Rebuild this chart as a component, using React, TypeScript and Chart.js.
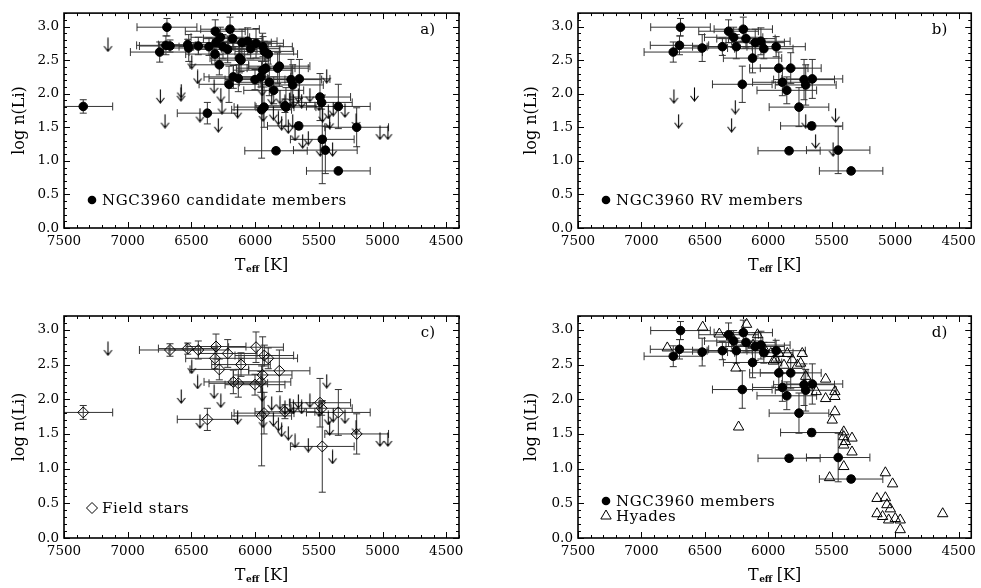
import React, { useEffect, useRef } from 'react';
import { Chart, registerables } from 'chart.js';

Chart.register(...registerables);

// ---------------- data ----------------
// NGC3960 RV members (detections)
const rvTeff = [6692, 6700, 6749, 6521, 6362, 6313, 6273, 6252, 6197, 6176, 6124, 6103, 6058, 6035, 5938, 5917, 5823, 6205, 5889, 5854, 5718, 5705, 5653, 5758, 5658, 5836, 5449, 5347];
const rvLi = [2.99, 2.72, 2.62, 2.68, 2.70, 2.93, 2.84, 2.70, 2.96, 2.82, 2.53, 2.76, 2.78, 2.67, 2.70, 2.38, 2.38, 2.14, 2.17, 2.05, 2.21, 2.13, 2.22, 1.80, 1.52, 1.15, 1.16, 0.85];
const rvTeffErr = [235, 230, 230, 200, 235, 235, 230, 230, 230, 230, 230, 230, 230, 230, 230, 230, 240, 235, 235, 235, 240, 240, 240, 235, 245, 245, 250, 250];
const rvLiErr = [0.13, 0.14, 0.15, 0.20, 0.13, 0.17, 0.15, 0.18, 0.18, 0.14, 0.22, 0.20, 0.20, 0.15, 0.15, 0.24, 0.23, 0.27, 0.20, 0.20, 0.30, 0.30, 0.29, 0.29, 0.05, 0.04, 0.35, 0.04];
// NGC3960 RV members (upper limits)
const rvLimTeff = [6744, 6582, 6707, 6260, 6289, 5627, 5470, 5705, 5489];
const rvLimLi = [1.96, 1.99, 1.59, 1.80, 1.53, 1.29, 1.68, 1.59, 1.17];

// Field stars (detections)
const fieldTeff = [7349, 6668, 6529, 6446, 6307, 6315, 6215, 6281, 6111, 5993, 5928, 5897, 5810, 6171, 6132, 6001, 5955, 5941, 6375, 5949, 5930, 5766, 5491, 5478, 5347, 5203, 5473];
const fieldLi = [1.81, 2.71, 2.73, 2.71, 2.76, 2.59, 2.66, 2.43, 2.50, 2.75, 2.63, 2.59, 2.41, 2.25, 2.23, 2.21, 2.25, 2.35, 1.71, 1.76, 1.80, 1.82, 1.95, 1.87, 1.81, 1.50, 1.32];
const fieldTeffErr = [231, 240, 230, 230, 235, 230, 230, 230, 230, 215, 230, 230, 240, 230, 230, 235, 235, 230, 236, 235, 235, 235, 240, 240, 250, 250, 250];
const fieldLiErr = [0.10, 0.09, 0.08, 0.13, 0.18, 0.15, 0.20, 0.15, 0.17, 0.22, 0.15, 0.15, 0.30, 0.17, 0.20, 0.15, 0.15, 0.55, 0.16, 0.72, 0.30, 0.10, 0.35, 0.10, 0.33, 0.29, 0.66];
// Field stars (upper limits)
const fieldLimTeff = [7155, 6580, 6497, 6451, 6322, 6269, 6433, 6137, 5945, 5938, 5870, 5805, 5857, 5818, 5792, 5740, 5687, 5766, 5726, 5700, 5661, 5635, 5583, 5570, 5499, 5438, 5426, 5415, 5387, 5392, 5295, 5208, 5020, 4958];
const fieldLimLi = [2.73, 2.04, 2.47, 2.25, 2.11, 1.98, 1.68, 1.74, 2.07, 1.69, 1.94, 1.95, 1.71, 1.64, 1.56, 1.51, 1.40, 1.88, 1.91, 1.89, 1.97, 1.89, 1.34, 1.98, 1.85, 2.26, 1.73, 1.58, 1.77, 1.17, 1.75, 1.60, 1.42, 1.42];

// Hyades
const hyadesTeff = [6796, 6517, 6386, 6290, 6255, 6234, 6171, 6120, 6085, 6030, 5980, 5960, 5941, 5915, 5876, 5850, 5811, 5771, 5745, 5732, 5705, 5622, 5548, 5548, 5475, 5475, 5475, 5496, 5405, 5405, 5392, 5340, 5405, 5340, 5405, 5517, 5077, 5020, 5143, 5077, 5065, 5038, 5143, 5099, 5051, 4999, 4960, 4960, 4625];
const hyadesLi = [2.74, 3.04, 2.94, 2.90, 2.45, 1.60, 3.08, 2.78, 2.93, 2.72, 2.66, 2.55, 2.57, 2.66, 2.49, 2.66, 2.57, 2.49, 2.52, 2.66, 2.33, 2.11, 2.29, 2.01, 2.11, 2.04, 1.82, 1.70, 1.53, 1.46, 1.39, 1.44, 1.34, 1.24, 1.03, 0.87, 0.94, 0.78, 0.57, 0.58, 0.48, 0.42, 0.35, 0.31, 0.26, 0.28, 0.26, 0.12, 0.35];

// Axes
const xTickValues = [7500, 7000, 6500, 6000, 5500, 5000, 4500];
const yTickValues = [0.0, 0.5, 1.0, 1.5, 2.0, 2.5, 3.0];
const X_MIN = 4400;
const X_MAX = 7500;
const Y_MIN = 0;
const Y_MAX = 3.2;

const panelLabels = ['a)', 'b)', 'c)', 'd)'];
const yTitle = 'log n(Li)';

// ---------------- helpers ----------------
const FONT = '"DejaVu Serif", "Liberation Serif", serif';

type Pt = { x: number; y: number; xe: number; ye: number };
const toPts = (xs: number[], ys: number[], xe?: number[], ye?: number[]): Pt[] =>
  xs.map((x, i) => ({ x, y: ys[i], xe: xe ? xe[i] : 0, ye: ye ? ye[i] : 0 }));

function makeArrow(): HTMLCanvasElement {
  const c = document.createElement('canvas');
  c.width = 11;
  c.height = 15;
  const g = c.getContext('2d')!;
  g.strokeStyle = '#000';
  g.lineWidth = 1.1;
  g.beginPath();
  g.moveTo(5.5, 0.5);
  g.lineTo(5.5, 14);
  g.moveTo(1.5, 9);
  g.lineTo(5.5, 14);
  g.lineTo(9.5, 9);
  g.stroke();
  return c;
}

function drawSymbol(ctx: CanvasRenderingContext2D, kind: string, x: number, y: number) {
  ctx.save();
  ctx.strokeStyle = '#000';
  ctx.fillStyle = '#000';
  ctx.lineWidth = 1;
  ctx.beginPath();
  if (kind === 'circle') {
    ctx.arc(x, y, 4.3, 0, Math.PI * 2);
    ctx.fill();
  } else if (kind === 'diamond') {
    const r = 5.5;
    ctx.moveTo(x - r, y);
    ctx.lineTo(x, y - r);
    ctx.lineTo(x + r, y);
    ctx.lineTo(x, y + r);
    ctx.closePath();
    ctx.stroke();
  } else {
    const r = 6;
    for (let k = 0; k < 3; k++) {
      const a = (k * 2 * Math.PI) / 3;
      const px = x + Math.sin(a) * r;
      const py = y - Math.cos(a) * r;
      if (k === 0) ctx.moveTo(px, py);
      else ctx.lineTo(px, py);
    }
    ctx.closePath();
    ctx.stroke();
  }
  ctx.restore();
}

const errorBarPlugin = {
  id: 'errorBars',
  beforeDatasetsDraw(chart: any) {
    const { ctx, chartArea: ca, scales } = chart;
    const xs = scales.x;
    const ys = scales.y;
    ctx.save();
    ctx.beginPath();
    ctx.rect(ca.left, ca.top, ca.right - ca.left, ca.bottom - ca.top);
    ctx.clip();
    ctx.strokeStyle = '#333';
    ctx.lineWidth = 1;
    chart.data.datasets.forEach((ds: any) => {
      if (!ds.errorBars) return;
      ds.data.forEach((d: Pt) => {
        const cx = xs.getPixelForValue(d.x);
        const cy = ys.getPixelForValue(d.y);
        ctx.beginPath();
        if (d.xe) {
          const x1 = xs.getPixelForValue(d.x - d.xe);
          const x2 = xs.getPixelForValue(d.x + d.xe);
          ctx.moveTo(x1, cy);
          ctx.lineTo(x2, cy);
          ctx.moveTo(x1, cy - 4);
          ctx.lineTo(x1, cy + 4);
          ctx.moveTo(x2, cy - 4);
          ctx.lineTo(x2, cy + 4);
        }
        if (d.ye) {
          const y1 = ys.getPixelForValue(d.y - d.ye);
          const y2 = ys.getPixelForValue(d.y + d.ye);
          ctx.moveTo(cx, y1);
          ctx.lineTo(cx, y2);
          ctx.moveTo(cx - 3.5, y1);
          ctx.lineTo(cx + 3.5, y1);
          ctx.moveTo(cx - 3.5, y2);
          ctx.lineTo(cx + 3.5, y2);
        }
        ctx.stroke();
      });
    });
    ctx.restore();
  },
};

const decoPlugin = {
  id: 'panelDeco',
  afterDraw(chart: any, _args: any, opts: any) {
    const { ctx, chartArea: ca, scales } = chart;
    const xs = scales.x;
    const ys = scales.y;
    ctx.save();
    // frame
    ctx.strokeStyle = '#000';
    ctx.lineWidth = 1.6;
    ctx.strokeRect(ca.left, ca.top, ca.right - ca.left, ca.bottom - ca.top);
    // ticks (inward, all four sides)
    ctx.lineWidth = 1;
    ctx.beginPath();
    for (let k = 0; k <= 31; k++) {
      const v = X_MAX - 100 * k;
      if (v < X_MIN) break;
      const len = v % 500 === 0 ? 6 : 3;
      const px = Math.round(xs.getPixelForValue(v)) + 0.5;
      ctx.moveTo(px, ca.bottom);
      ctx.lineTo(px, ca.bottom - len);
      ctx.moveTo(px, ca.top);
      ctx.lineTo(px, ca.top + len);
    }
    for (let k = 0; k <= 32; k++) {
      const v = k / 10;
      const len = k % 5 === 0 ? 6 : 3;
      const py = Math.round(ys.getPixelForValue(v)) + 0.5;
      ctx.moveTo(ca.left, py);
      ctx.lineTo(ca.left + len, py);
      ctx.moveTo(ca.right, py);
      ctx.lineTo(ca.right - len, py);
    }
    ctx.stroke();

    ctx.fillStyle = '#000';
    // panel label
    ctx.font = `15px ${FONT}`;
    ctx.textAlign = 'right';
    ctx.textBaseline = 'middle';
    ctx.fillText(opts.label, ca.right - 24, ca.top + 17);

    // x title: T_eff [K]
    const cxm = (ca.left + ca.right) / 2;
    const base = ca.bottom + 42;
    ctx.textAlign = 'left';
    ctx.textBaseline = 'alphabetic';
    ctx.font = `16px ${FONT}`;
    const wT = ctx.measureText('T').width;
    const wK = ctx.measureText(' [K]').width;
    ctx.font = `bold 9px ${FONT}`;
    const wE = ctx.measureText('eff').width;
    const x0 = cxm - (wT + wE + wK) / 2;
    ctx.font = `16px ${FONT}`;
    ctx.fillText('T', x0, base);
    ctx.font = `bold 9px ${FONT}`;
    ctx.fillText('eff', x0 + wT + 0.5, base + 2);
    ctx.font = `16px ${FONT}`;
    ctx.fillText(' [K]', x0 + wT + wE, base);

    // legend
    ctx.font = `15px ${FONT}`;
    (ctx as any).letterSpacing = '0.6px';
    ctx.textBaseline = 'middle';
    (opts.legend || []).forEach((item: any) => {
      const sx = ca.left + 28;
      const sy = ca.bottom - item.dy;
      drawSymbol(ctx, item.kind, sx, sy);
      ctx.fillStyle = '#000';
      ctx.fillText(item.text, sx + 10, sy + 1);
    });
    (ctx as any).letterSpacing = '0px';
    ctx.restore();
  },
};

type PanelSpec = {
  left: number;
  top: number;
  width: number;
  height: number;
  padLeft: number;
  padTop: number;
  padRight: number;
  yAxisWidth: number;
  xAxisHeight: number;
  label: string;
  legend: { kind: string; text: string; dy: number }[];
  build: (arrow: HTMLCanvasElement) => any[];
};

const circleDs = (label: string, data: Pt[]) => ({
  label,
  data,
  errorBars: true,
  pointStyle: 'circle',
  pointRadius: 4.3,
  backgroundColor: '#000',
  borderColor: '#000',
  pointBorderWidth: 1,
  showLine: false,
});
const diamondDs = (label: string, data: Pt[]) => ({
  label,
  data,
  errorBars: true,
  pointStyle: 'rectRot',
  pointRadius: 5.5,
  backgroundColor: 'rgba(0,0,0,0)',
  borderColor: '#000',
  pointBorderWidth: 1,
  showLine: false,
});
const triangleDs = (label: string, data: Pt[]) => ({
  label,
  data,
  pointStyle: 'triangle',
  pointRadius: 6,
  backgroundColor: 'rgba(0,0,0,0)',
  borderColor: '#000',
  pointBorderWidth: 1,
  showLine: false,
});
const arrowDs = (label: string, data: Pt[], arrow: HTMLCanvasElement) => ({
  label,
  data,
  pointStyle: arrow,
  pointRadius: 5,
  backgroundColor: '#000',
  borderColor: '#000',
  showLine: false,
});

const panels: PanelSpec[] = [
  {
    left: 0, top: 0, width: 490, height: 294,
    padLeft: 0, padTop: 6, padRight: 31, yAxisWidth: 64, xAxisHeight: 66,
    label: panelLabels[0],
    legend: [{ kind: 'circle', text: 'NGC3960 candidate members', dy: 28 }],
    build: (arrow) => [
      circleDs('Candidate members', toPts([...rvTeff, ...fieldTeff], [...rvLi, ...fieldLi], [...rvTeffErr, ...fieldTeffErr], [...rvLiErr, ...fieldLiErr])),
      arrowDs('Upper limits', toPts([...rvLimTeff, ...fieldLimTeff], [...rvLimLi, ...fieldLimLi]), arrow),
    ],
  },
  {
    left: 490, top: 0, width: 491, height: 294,
    padLeft: 22, padTop: 6, padRight: 8, yAxisWidth: 66, xAxisHeight: 66,
    label: panelLabels[1],
    legend: [{ kind: 'circle', text: 'NGC3960 RV members', dy: 28 }],
    build: (arrow) => [
      circleDs('RV members', toPts(rvTeff, rvLi, rvTeffErr, rvLiErr)),
      arrowDs('Upper limits', toPts(rvLimTeff, rvLimLi), arrow),
    ],
  },
  {
    left: 0, top: 294, width: 490, height: 294,
    padLeft: 0, padTop: 22, padRight: 31, yAxisWidth: 64, xAxisHeight: 50,
    label: panelLabels[2],
    legend: [{ kind: 'diamond', text: 'Field stars', dy: 30 }],
    build: (arrow) => [
      diamondDs('Field stars', toPts(fieldTeff, fieldLi, fieldTeffErr, fieldLiErr)),
      arrowDs('Upper limits', toPts(fieldLimTeff, fieldLimLi), arrow),
    ],
  },
  {
    left: 490, top: 294, width: 491, height: 294,
    padLeft: 22, padTop: 22, padRight: 8, yAxisWidth: 66, xAxisHeight: 50,
    label: panelLabels[3],
    legend: [
      { kind: 'circle', text: 'NGC3960 members', dy: 37 },
      { kind: 'triangle', text: 'Hyades', dy: 22 },
    ],
    build: () => [
      circleDs('NGC3960 members', toPts(rvTeff, rvLi, rvTeffErr, rvLiErr)),
      triangleDs('Hyades', toPts(hyadesTeff, hyadesLi)),
    ],
  },
];

function Panel({ spec }: { spec: PanelSpec }) {
  const ref = useRef<HTMLCanvasElement | null>(null);
  useEffect(() => {
    if (!ref.current) return;
    const arrow = makeArrow();
    const tickFont = { family: FONT, size: 13.5 };
    const chart = new Chart(ref.current, {
      type: 'scatter',
      data: { datasets: spec.build(arrow) as any },
      options: {
        animation: false,
        responsive: false,
        maintainAspectRatio: false,
        events: [],
        layout: { padding: { left: spec.padLeft, top: spec.padTop, right: spec.padRight, bottom: 0 } },
        plugins: {
          legend: { display: false },
          tooltip: { enabled: false },
          panelDeco: { label: spec.label, legend: spec.legend },
        } as any,
        scales: {
          x: {
            type: 'linear',
            min: X_MIN,
            max: X_MAX,
            reverse: true,
            afterBuildTicks: (s: any) => {
              s.ticks = xTickValues.map((v) => ({ value: v }));
            },
            afterFit: (s: any) => {
              s.height = spec.xAxisHeight;
            },
            grid: { display: false, drawTicks: false },
            border: { display: false },
            ticks: {
              font: tickFont,
              color: '#000',
              padding: 5,
              maxRotation: 0,
              autoSkip: false,
              callback: (v: any) => String(v),
            },
          },
          y: {
            type: 'linear',
            min: Y_MIN,
            max: Y_MAX,
            afterBuildTicks: (s: any) => {
              s.ticks = yTickValues.map((v) => ({ value: v }));
            },
            afterFit: (s: any) => {
              s.width = spec.yAxisWidth;
            },
            grid: { display: false, drawTicks: false },
            border: { display: false },
            ticks: {
              font: tickFont,
              color: '#000',
              padding: 5,
              autoSkip: false,
              callback: (v: any) => Number(v).toFixed(1),
            },
            title: {
              display: true,
              text: yTitle,
              color: '#000',
              font: { family: FONT, size: 16 },
              padding: { top: 10.4, bottom: 0 },
            },
          },
        },
      } as any,
      plugins: [errorBarPlugin, decoPlugin],
    });
    return () => chart.destroy();
  }, [spec]);
  return (
    <canvas
      ref={ref}
      width={spec.width}
      height={spec.height}
      style={{ position: 'absolute', left: spec.left, top: spec.top, width: spec.width, height: spec.height }}
    />
  );
}

export default function App() {
  return (
    <div
      style={{
        position: 'fixed',
        left: 0,
        top: 0,
        width: 981,
        height: 588,
        background: '#fff',
        overflow: 'hidden',
      }}
    >
      {panels.map((p, i) => (
        <Panel key={i} spec={p} />
      ))}
    </div>
  );
}
